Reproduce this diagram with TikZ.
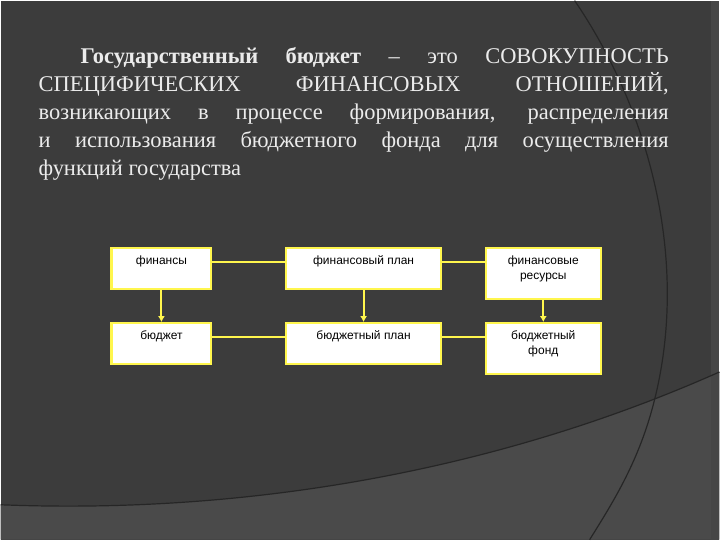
\documentclass[tikz,border=0pt]{standalone}
\usepackage{fontspec}
\setmainfont{Liberation Serif}
\newfontfamily\boxfont{Liberation Sans}
\usetikzlibrary{arrows.meta}
\begin{document}
\begin{tikzpicture}[x=1pt,y=-1pt,
  bx/.style={draw=yellow!70!white,line width=2.2pt,fill=white,inner sep=3pt,anchor=north west},
  lk/.style={draw=yellow!70!white,line width=2pt},
  ar/.style={draw=yellow!70!white,line width=2pt,-{Latex[length=6pt,width=7pt]}}]
\fill[fill={rgb,255:red,60;green,60;blue,60}] (0,0) rectangle (720,540);
\fill[fill={rgb,255:red,74;green,74;blue,74}] (0,505) .. controls (250,515) and (500,470) .. (720,372) -- (720,540) -- (0,540) -- cycle;
\fill[fill={rgb,255:red,70;green,70;blue,70}] (712,0) rectangle (720,540);
\draw[black!85,line width=1.2pt] (0,505) .. controls (250,515) and (500,470) .. (720,372);
\draw[black!85,line width=1.2pt] (575,0) .. controls (650,110) and (690,260) .. (655,400) .. controls (640,460) and (615,500) .. (590,540);
\node[anchor=north west,text=white!92!black,inner sep=0pt,align=justify,text width=631pt,font=\fontsize{22.5}{28}\selectfont] (t) at (38,47)
{\hspace*{42pt}\textbf{Государственный бюджет} – это СОВОКУПНОСТЬ СПЕЦИФИЧЕСКИХ ФИНАНСОВЫХ ОТНОШЕНИЙ, возникающих в процессе формирования, распределения и использования бюджетного фонда для осуществления\linebreak функций государства};
\begin{scope}[every node/.append style={font=\boxfont\fontsize{12}{15}\selectfont,align=center}]
\node[bx,minimum width=100pt,minimum height=41pt] (a1) at (110,247) {};
\node[anchor=north] at (a1.north) [yshift=-5pt] {финансы};
\node[bx,minimum width=155pt,minimum height=41pt] (a2) at (285,247) {};
\node[anchor=north] at (a2.north) [yshift=-5pt] {финансовый план};
\node[bx,minimum width=115pt,minimum height=51pt] (a3) at (485,247) {};
\node[anchor=north] at (a3.north) [yshift=-5pt] {финансовые\\ресурсы};
\node[bx,minimum width=100pt,minimum height=41pt] (b1) at (110,322) {};
\node[anchor=north] at (b1.north) [yshift=-5pt] {бюджет};
\node[bx,minimum width=155pt,minimum height=41pt] (b2) at (285,322) {};
\node[anchor=north] at (b2.north) [yshift=-5pt] {бюджетный план};
\node[bx,minimum width=115pt,minimum height=51pt] (b3) at (485,322) {};
\node[anchor=north] at (b3.north) [yshift=-5pt] {бюджетный\\фонд};
\end{scope}
\draw[lk] ([yshift=-15pt]a1.north east) -- ([yshift=-15pt]a2.north west);
\draw[lk] ([yshift=-15pt]a2.north east) -- ([yshift=-15pt]a3.north west);
\draw[lk] ([yshift=-15pt]b1.north east) -- ([yshift=-15pt]b2.north west);
\draw[lk] ([yshift=-15pt]b2.north east) -- ([yshift=-15pt]b3.north west);
\draw[ar] (a1.south) -- (b1.north);
\draw[ar] (a2.south) -- (b2.north);
\draw[ar] (a3.south) -- (b3.north);
\end{tikzpicture}
\end{document}
